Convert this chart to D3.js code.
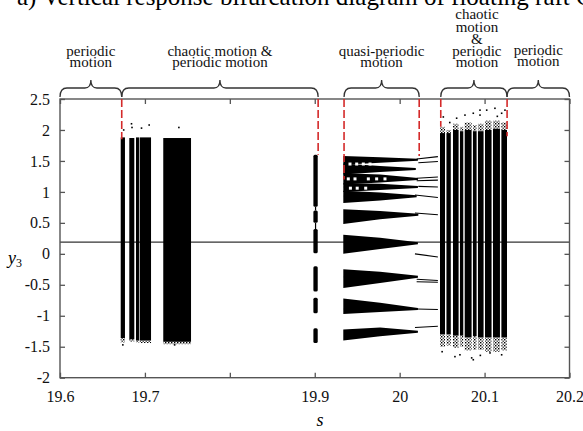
<!DOCTYPE html>
<html>
<head>
<meta charset="utf-8">
<script src="https://cdn.jsdelivr.net/npm/d3@7/dist/d3.min.js"></script>
<style>
  html, body { margin: 0; padding: 0; background: #fff; }
  svg { display: block; font-family: "Liberation Serif", "DejaVu Serif", serif; }
</style>
</head>
<body>
<div id="chart"></div>
<script>
// axis ticks
const sTicks = [19.6, 19.7, 19.8, 19.9, 20.0, 20.1, 20.2];
const sTickLabels = ["19.6", "19.7", "", "19.9", "20", "20.1", "20.2"];
const yTicks = [-2, -1.5, -1, -0.5, 0, 0.5, 1, 1.5, 2, 2.5];
const yTickLabels = ["-2", "-1.5", "-1", "-0.5", "0", "0.5", "1", "1.5", "2", "2.5"];

// motion regions: [s start, s end], label lines
const regionSpans = [[19.6, 19.6727], [19.6727, 19.904], [19.9345, 20.023], [20.0484, 20.1265], [20.1265, 20.2]];
const regionLabels = [
  ["periodic", "motion"],
  ["chaotic motion &", "periodic motion"],
  ["quasi-periodic", "motion"],
  ["chaotic", "motion", "&", "periodic", "motion"],
  ["periodic", "motion"]
];
// red dashed boundaries: s, lower end (y3)
const boundaryS = [19.6727, 19.904, 19.9345, 20.023, 20.0484, 20.1265];
const boundaryEnd = [1.85, 1.6, 1.2, 1.58, 2.05, 1.9];

// reference line y3
const refLine = 0.19;

// chaotic band 1: s0, s1, top, bottom, fringe bottom
const chaos1 = [
  [19.6715, 19.6765, 1.88, -1.36, -1.43],
  [19.6816, 19.6875, 1.87, -1.38, -1.42],
  [19.6895, 19.6930, 1.88, -1.40, -1.43],
  [19.6938, 19.7072, 1.88, -1.40, -1.44],
  [19.7216, 19.7543, 1.87, -1.42, -1.46]
];
// chaotic band 2: s0, s1, top, bottom, fringe top, fringe bottom
const chaos2 = [
  [20.0475, 20.0534, 1.95, -1.30, 2.05, -1.50],
  [20.0551, 20.0602, 1.95, -1.30, 2.00, -1.48],
  [20.0628, 20.0694, 2.00, -1.32, 2.10, -1.52],
  [20.0710, 20.0749, 1.98, -1.32, 2.05, -1.50],
  [20.0766, 20.0847, 2.00, -1.35, 2.12, -1.56],
  [20.0863, 20.0906, 1.98, -1.33, 2.08, -1.55],
  [20.0922, 20.0988, 1.98, -1.35, 2.10, -1.55],
  [20.1005, 20.1082, 2.00, -1.35, 2.15, -1.58],
  [20.1099, 20.1181, 2.02, -1.35, 2.15, -1.58],
  [20.1198, 20.1264, 2.00, -1.35, 2.12, -1.56]
];
// scattered points outside the dense bands: s, y3
const scatter = [
  [19.6750, 2.00], [19.6842, 2.10], [19.6848, 2.04], [19.6960, 2.03], [19.7050, 2.08], [19.7400, 2.04],
  [19.6740, -1.47], [19.7350, -1.47],
  [20.0514, 2.21], [20.0671, 2.19], [20.0769, 2.24], [20.0867, 2.27], [20.0946, 2.24], [20.0946, 2.32],
  [20.1025, 2.32], [20.1122, 2.35], [20.1201, 2.27], [20.1240, 2.32], [20.0590, 2.12], [20.1150, 2.22],
  [20.0651, -1.66], [20.0710, -1.63], [20.0848, -1.68], [20.0867, -1.71], [20.1064, -1.60], [20.1201, -1.63],
  [20.0500, -1.58], [20.0950, -1.64]
];
// periodic window at s ~ 19.9: s0, s1 and y3 segments
const windowS = [19.8984, 19.9035];
const windowSegs = [[1.6, 0.76], [0.70, 0.50], [0.40, 0.01], [-0.20, -0.61], [-0.71, -0.96], [-1.20, -1.44]];
const windowNecks = [[0.76, 0.70], [0.50, 0.40]];

// quasi-periodic bands: s0, s mid, s1, top0, bottom0, top mid, bottom mid, tip
const qpBands = [
  [19.9336, 19.977, 20.0215, 1.58, 1.44, 1.56, 1.47, 1.52],
  [19.9336, 19.977, 20.0190, 1.46, 1.28, 1.42, 1.32, 1.37],
  [19.9336, 19.977, 20.0215, 1.30, 1.12, 1.28, 1.15, 1.21],
  [19.9336, 19.977, 20.0215, 1.14, 1.00, 1.13, 1.03, 1.08],
  [19.9336, 19.977, 20.0200, 1.02, 0.82, 0.99, 0.86, 0.93],
  [19.9336, 19.977, 20.0220, 0.72, 0.48, 0.69, 0.56, 0.63],
  [19.9336, 19.977, 20.0215, 0.31, 0.00, 0.26, 0.08, 0.17],
  [19.9336, 19.977, 20.0215, -0.25, -0.55, -0.29, -0.47, -0.37],
  [19.9336, 19.977, 20.0215, -0.72, -0.97, -0.79, -0.94, -0.89],
  [19.9336, 19.977, 20.0215, -1.22, -1.40, -1.19, -1.33, -1.26]
];
// gaps inside the quasi-periodic cluster: s, y3
const qpHoles = [
  [19.9415, 1.45], [19.9494, 1.45], [19.9572, 1.45], [19.9651, 1.45],
  [19.9395, 1.21], [19.9474, 1.21], [19.9631, 1.21], [19.9729, 1.21], [19.9827, 1.21],
  [19.9420, 1.06], [19.9500, 1.06], [19.9600, 1.06]
];
// periodic branches after the quasi-periodic region: s0, y0, s1, y1
const qpLines = [
  [20.020, 1.53, 20.045, 1.57],
  [20.022, 1.47, 20.045, 1.49],
  [20.020, 1.22, 20.045, 1.24],
  [20.020, 1.18, 20.045, 1.19],
  [20.022, 1.09, 20.045, 1.08],
  [20.018, 0.95, 20.045, 0.91],
  [20.018, 0.66, 20.045, 0.63],
  [20.018, 0.00, 20.045, -0.05],
  [20.020, -0.41, 20.045, -0.43],
  [20.020, -0.45, 20.045, -0.46],
  [20.020, -0.89, 20.045, -0.90],
  [20.018, -1.19, 20.045, -1.17]
];

const w = 583;
const h = 431;
const padLeft = 60, padRight = 569.5, padTop = 99, padBottom = 377.7;

const svg = d3.select('#chart').append('svg')
  .attr('width', w)
  .attr('height', h);

const defs = svg.append('defs');
const pat = defs.append('pattern')
  .attr('id', 'speck')
  .attr('patternUnits', 'userSpaceOnUse')
  .attr('width', 3).attr('height', 3);
pat.append('rect').attr('x', 0).attr('y', 0).attr('width', 1.4).attr('height', 1.4).attr('fill', '#000');
pat.append('rect').attr('x', 1.6).attr('y', 1.6).attr('width', 1.2).attr('height', 1.2).attr('fill', '#000');

const xScale = d3.scaleLinear().domain([19.6, 20.2]).range([padLeft, padRight]);
const yScale = d3.scaleLinear().domain([-2, 2.5]).range([padBottom, padTop]);

// title (cut off at the top)
svg.append('text')
  .text('a) Vertical response bifurcation diagram of floating raft C')
  .attr('x', 17)
  .attr('y', 4.5)
  .attr('font-size', 25);

// reference line
svg.append('line')
  .attr('x1', padLeft).attr('x2', padRight)
  .attr('y1', yScale(refLine)).attr('y2', yScale(refLine))
  .attr('stroke', '#333').attr('stroke-width', 1.3);

// chaotic band 1
const g1 = svg.append('g');
g1.selectAll('rect.core').data(chaos1).enter().append('rect')
  .attr('x', d => xScale(d[0]))
  .attr('y', d => yScale(d[2]))
  .attr('width', d => xScale(d[1]) - xScale(d[0]))
  .attr('height', d => yScale(d[3]) - yScale(d[2]))
  .attr('fill', '#000');
g1.selectAll('rect.fringe').data(chaos1).enter().append('rect')
  .attr('x', d => xScale(d[0]))
  .attr('y', d => yScale(d[3]))
  .attr('width', d => xScale(d[1]) - xScale(d[0]))
  .attr('height', d => yScale(d[4]) - yScale(d[3]))
  .attr('fill', 'url(#speck)');

// chaotic band 2
const g2 = svg.append('g');
g2.selectAll('rect.core').data(chaos2).enter().append('rect')
  .attr('x', d => xScale(d[0]))
  .attr('y', d => yScale(d[2]))
  .attr('width', d => xScale(d[1]) - xScale(d[0]))
  .attr('height', d => yScale(d[3]) - yScale(d[2]))
  .attr('fill', '#000');
g2.selectAll('rect.ftop').data(chaos2).enter().append('rect')
  .attr('x', d => xScale(d[0]))
  .attr('y', d => yScale(d[4]))
  .attr('width', d => xScale(d[1]) - xScale(d[0]))
  .attr('height', d => yScale(d[2]) - yScale(d[4]))
  .attr('fill', 'url(#speck)');
g2.selectAll('rect.fbot').data(chaos2).enter().append('rect')
  .attr('x', d => xScale(d[0]))
  .attr('y', d => yScale(d[3]))
  .attr('width', d => xScale(d[1]) - xScale(d[0]))
  .attr('height', d => yScale(d[5]) - yScale(d[3]))
  .attr('fill', 'url(#speck)');

// scattered points
svg.append('g').selectAll('rect').data(scatter).enter().append('rect')
  .attr('x', d => xScale(d[0]) - 0.8)
  .attr('y', d => yScale(d[1]) - 0.8)
  .attr('width', 1.6).attr('height', 1.6)
  .attr('fill', '#000');

// periodic window near s = 19.9
const gw = svg.append('g');
gw.selectAll('rect').data(windowSegs).enter().append('rect')
  .attr('x', xScale(windowS[0]))
  .attr('y', d => yScale(d[0]))
  .attr('width', xScale(windowS[1]) - xScale(windowS[0]))
  .attr('height', d => yScale(d[1]) - yScale(d[0]))
  .attr('rx', 1.5)
  .attr('fill', '#000');
gw.selectAll('line').data(windowNecks).enter().append('line')
  .attr('x1', xScale((windowS[0] + windowS[1]) / 2))
  .attr('x2', xScale((windowS[0] + windowS[1]) / 2))
  .attr('y1', d => yScale(d[0])).attr('y2', d => yScale(d[1]))
  .attr('stroke', '#000').attr('stroke-width', 1.2);

// quasi-periodic bands
const gq = svg.append('g');
gq.selectAll('path').data(qpBands).enter().append('path')
  .attr('d', d => 'M' + xScale(d[0]) + ',' + yScale(d[3]) +
    'L' + xScale(d[1]) + ',' + yScale(d[5]) +
    'L' + xScale(d[2]) + ',' + (yScale(d[7]) - 1) +
    'L' + xScale(d[2]) + ',' + (yScale(d[7]) + 1) +
    'L' + xScale(d[1]) + ',' + yScale(d[6]) +
    'L' + xScale(d[0]) + ',' + yScale(d[4]) + 'Z')
  .attr('fill', '#000');
gq.selectAll('rect').data(qpHoles).enter().append('rect')
  .attr('x', d => xScale(d[0]) - 1.5)
  .attr('y', d => yScale(d[1]) - 1.5)
  .attr('width', 3).attr('height', 3)
  .attr('fill', '#fff');
gq.selectAll('line').data(qpLines).enter().append('line')
  .attr('x1', d => xScale(d[0])).attr('y1', d => yScale(d[1]))
  .attr('x2', d => xScale(d[2])).attr('y2', d => yScale(d[3]))
  .attr('stroke', '#000').attr('stroke-width', 1.1);

// frame
svg.append('rect')
  .attr('x', padLeft).attr('y', padTop)
  .attr('width', padRight - padLeft).attr('height', padBottom - padTop)
  .attr('fill', 'none').attr('stroke', '#555').attr('stroke-width', 1.4);

// axes
const yAxis = d3.axisLeft(yScale).tickValues(yTicks)
  .tickFormat((d, i) => yTickLabels[i]).tickSize(-5).tickPadding(10);
const gy = svg.append('g').attr('transform', 'translate(' + padLeft + ',0)').call(yAxis);
const yAxisR = d3.axisRight(yScale).tickValues(yTicks).tickFormat('').tickSize(-5);
const gyr = svg.append('g').attr('transform', 'translate(' + padRight + ',0)').call(yAxisR);
const xAxis = d3.axisBottom(xScale).tickValues(sTicks)
  .tickFormat((d, i) => sTickLabels[i]).tickSize(-5).tickPadding(13);
const gx = svg.append('g').attr('transform', 'translate(0,' + padBottom + ')').call(xAxis);
const xAxisT = d3.axisTop(xScale).tickValues(sTicks).tickFormat('').tickSize(-5);
const gxt = svg.append('g').attr('transform', 'translate(0,' + padTop + ')').call(xAxisT);
[gy, gyr, gx, gxt].forEach(g => {
  g.select('.domain').remove();
  g.selectAll('line').attr('stroke', '#555').attr('stroke-width', 1.3);
  g.selectAll('text').attr('font-family', '"Liberation Serif", serif').attr('font-size', 16).attr('fill', '#111');
});

// red dashed boundaries
svg.append('g').selectAll('line').data(boundaryS).enter().append('line')
  .attr('x1', d => xScale(d)).attr('x2', d => xScale(d))
  .attr('y1', padTop)
  .attr('y2', (d, i) => yScale(boundaryEnd[i]))
  .attr('stroke', '#d42a2a').attr('stroke-width', 1.6)
  .attr('stroke-dasharray', '8,3');

// braces
function brace(xa, xb, yb) {
  const xm = (xa + xb) / 2;
  return 'M' + xa + ',' + (yb + 9) +
    'Q' + xa + ',' + yb + ' ' + (xa + 7) + ',' + yb +
    'L' + (xm - 6) + ',' + yb +
    'Q' + xm + ',' + yb + ' ' + xm + ',' + (yb - 8) +
    'Q' + xm + ',' + yb + ' ' + (xm + 6) + ',' + yb +
    'L' + (xb - 7) + ',' + yb +
    'Q' + xb + ',' + yb + ' ' + xb + ',' + (yb + 9);
}
svg.append('g').selectAll('path').data(regionSpans).enter().append('path')
  .attr('d', d => brace(xScale(d[0]), xScale(d[1]), 88))
  .attr('fill', 'none').attr('stroke', '#333').attr('stroke-width', 1.3);

// region labels
const lineBase = [
  [55.5, 66.5],
  [55.5, 66.5],
  [55.5, 66.5],
  [19, 31.5, 43.5, 56, 66.5],
  [55, 65.5]
];
regionLabels.forEach((lines, i) => {
  const cx = xScale((regionSpans[i][0] + regionSpans[i][1]) / 2) + (i === 3 ? 3 : 0);
  const t = svg.append('g');
  lines.forEach((s, j) => {
    t.append('text')
      .text(s)
      .attr('x', cx)
      .attr('y', lineBase[i][j])
      .attr('text-anchor', 'middle')
      .attr('font-size', 15)
      .attr('fill', '#111');
  });
});

// axis titles
svg.append('text')
  .attr('x', 320).attr('y', 426)
  .attr('font-size', 18).attr('font-style', 'italic')
  .attr('text-anchor', 'middle')
  .text('s');
const ylab = svg.append('text')
  .attr('x', 8).attr('y', 264)
  .attr('font-size', 18).attr('font-style', 'italic');
ylab.append('tspan').text('y');
ylab.append('tspan').attr('font-size', 12).attr('font-style', 'normal').attr('dy', 3).text('3');
</script>
</body>
</html>
